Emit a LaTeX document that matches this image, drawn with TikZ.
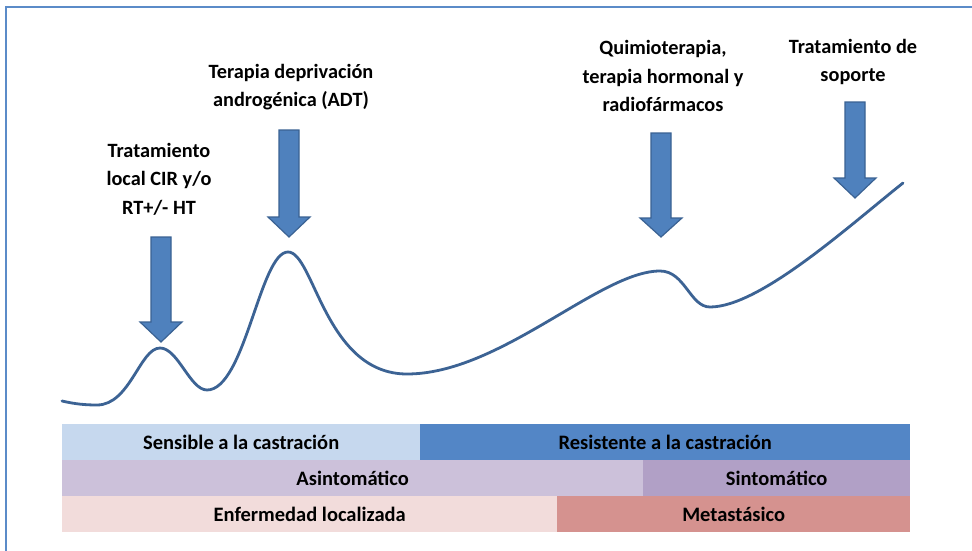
\documentclass[tikz,border=0pt]{standalone}
\usepackage{fontspec}
\setmainfont{Carlito}
\definecolor{frameblue}{HTML}{5B8BC8}
\definecolor{arrowfill}{HTML}{4F81BD}
\definecolor{arrowline}{HTML}{3A6293}
\definecolor{curveblue}{HTML}{3C6394}
\definecolor{sensc}{HTML}{C6D8EE}
\definecolor{resc}{HTML}{5386C6}
\definecolor{asinc}{HTML}{CCC1DA}
\definecolor{sinc}{HTML}{B1A0C6}
\definecolor{locc}{HTML}{F2DCDB}
\definecolor{metc}{HTML}{D5928F}
\tikzset{
  lbl/.style={align=center, inner sep=0pt, font=\bfseries\fontsize{20.3}{28.5}\selectfont, text=black},
  barbox/.style={draw=none, inner sep=0pt, anchor=north west, font=\bfseries\fontsize{20.5}{22}\selectfont, text=black, minimum height=36pt},
  arrowstyle/.style={fill=arrowfill, draw=arrowline, line width=1.2pt, line join=miter},
}
\newcommand\darrow[4]{% x, top, head base, tip
  \filldraw[arrowstyle] ({#1-10},#2) -- ({#1+10},#2) -- ({#1+10},#3) -- ({#1+21},#3) -- (#1,#4) -- ({#1-21},#3) -- ({#1-10},#3) -- cycle;}
\begin{document}
\begin{tikzpicture}[x=1pt,y=-1pt]
\useasboundingbox (0,0) rectangle (972,551);
\fill[white] (0,0) rectangle (972,551);
% frame
\draw[frameblue, line width=2.5pt] (6,560) -- (6,7) -- (980,7);
% curve
\draw[curveblue, line width=2.8pt, line cap=round]
 (62,401) .. controls (75,404) and (85,405) .. (97,405)
 .. controls (130,405) and (140,348) .. (160,348)
 .. controls (178,348) and (190,390) .. (207,390)
 .. controls (245,390) and (260,252) .. (288,252)
 .. controls (314,252) and (325,374) .. (407,374)
 .. controls (500,374) and (600,271) .. (660,271)
 .. controls (685,271) and (690,307) .. (710,307)
 .. controls (760,307) and (850,225) .. (903,183);
% arrows
\darrow{161}{237}{322}{342}
\darrow{289}{130}{217}{237}
\darrow{661}{133}{218}{237}
\darrow{855}{102}{178}{198}
% labels
\node[lbl] (t1) at (159,179) {Tratamiento\\local CIR y/o\\RT+/- HT};
\node[lbl] (t2) at (291,87) {Terapia deprivación\\androgénica (ADT)};
\node[lbl] (t3) at (663,76) {Quimioterapia,\\terapia hormonal y\\radiofármacos};
\node[lbl] (t4) at (853,62) {Tratamiento de\\soporte};
% bars
\node[barbox, fill=sensc, minimum width=358pt] (sens) at (62,424) {Sensible a la castración};
\node[barbox, fill=resc, minimum width=490pt] (res) at (420,424) {Resistente a la castración};
\node[barbox, fill=asinc, minimum width=581pt] (asin) at (62,460) {Asintomático};
\node[barbox, fill=sinc, minimum width=267pt] (sin) at (643,460) {Sintomático};
\node[barbox, fill=locc, minimum width=495pt] (loc) at (62,496) {Enfermedad localizada};
\node[barbox, fill=metc, minimum width=353pt] (met) at (557,496) {Metastásico};
\end{tikzpicture}
\end{document}
